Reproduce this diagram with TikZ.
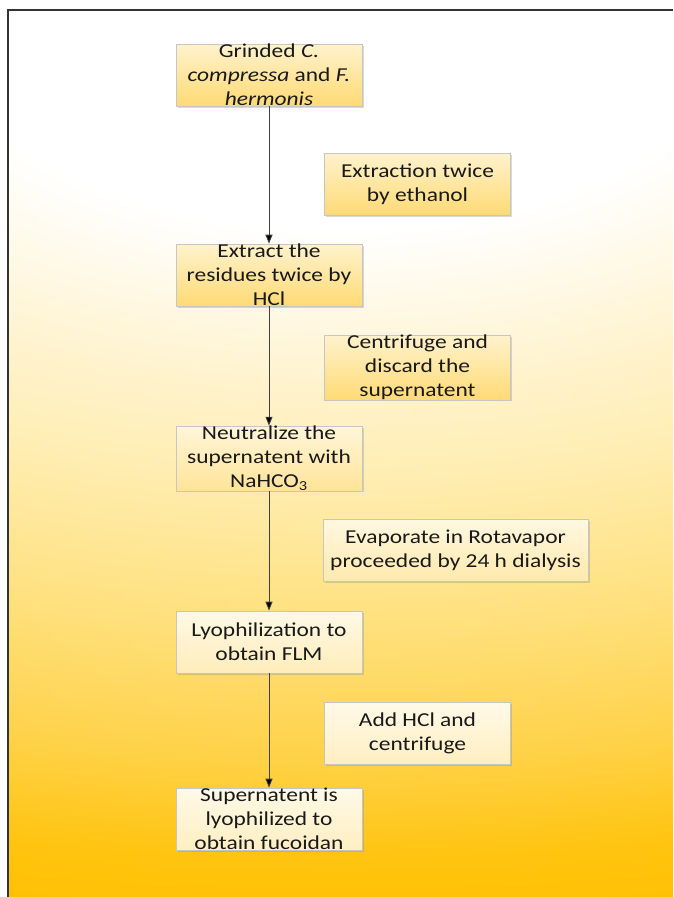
\documentclass[tikz,border=0pt]{standalone}
\usepackage{fontspec}
\setmainfont{Carlito}[FakeStretch=1.19]
\usepackage{tikz}
\usetikzlibrary{arrows.meta, shadows}

\definecolor{framegray}{HTML}{333333}
\definecolor{flowgray}{HTML}{404040}
\definecolor{boxtop}{HTML}{FFF2CC}
\definecolor{boxbot}{HTML}{FFDA75}
\definecolor{glowA}{HTML}{FFF6DC}
\definecolor{glowB}{HTML}{FFEDB0}
\definecolor{glowC}{HTML}{FFE07C}
\definecolor{glowD}{HTML}{FFD24A}
\definecolor{glowE}{HTML}{FFC40F}
\definecolor{glowF}{HTML}{FFC000}

\pgfdeclareradialshading{bgglow}{\pgfpoint{0bp}{0bp}}{%
  color(0bp)=(white); color(11bp)=(white); color(17bp)=(glowA);
  color(25bp)=(glowB); color(33bp)=(glowC); color(40bp)=(glowD);
  color(46bp)=(glowE); color(50bp)=(glowF)}

\tikzset{
  procbox/.style={draw=gray!45, line width=0.6pt,
    top color=boxtop!#1!white, bottom color=boxbot!#1!white,
    minimum width=186pt, minimum height=62pt, inner xsep=3pt, inner ysep=0pt,
    align=center, text=black!90, font=\fontsize{19.7pt}{24pt}\selectfont,
    drop shadow={opacity=0.3, shadow xshift=1.5pt, shadow yshift=-1.5pt}},
  procbox/.default=100,
  flow/.style={draw=flowgray, line width=0.9pt,
    -{Triangle[length=9pt, width=7pt, fill=black]}}
}

\begin{document}
\begin{tikzpicture}[x=1pt, y=-1pt]
  \useasboundingbox (0,0) rectangle (673,897);
  % background glow
  \begin{scope}
    \clip (8,10) rectangle (673,897);
    \pgftransformshift{\pgfpoint{340pt}{-30pt}}
    \pgftransformxscale{36}\pgftransformyscale{18}
    \pgflowlevelsynccm
    \pgfuseshading{bgglow}
  \end{scope}
  % frame
  \draw[framegray, line width=1.2pt] (8,897) -- (8,10) -- (673,10);

  % main steps
  \node[procbox] (grind) at (269,75)
    {Grinded \textit{C.}\\ \textit{compressa} and \textit{F.}\\ \textit{hermonis}};
  \node[procbox] (hcl) at (269,275)
    {Extract the\\ residues twice by\\ HCl};
  \node[procbox=75] (neutral) at (269,458.5)
    {Neutralize the\\ supernatent with\\ NaHCO\textsubscript{3}};
  \node[procbox=50] (lyo) at (269,642)
    {Lyophilization to\\ obtain FLM};
  \node[procbox=45] (fuco) at (269,819)
    {Supernatent is\\ lyophilized to\\ obtain fucoidan};

  % side notes
  \node[procbox] (ethanol) at (417.5,184)
    {Extraction twice\\ by ethanol};
  \node[procbox] (centri) at (417.5,367.5)
    {Centrifuge and\\ discard the\\ supernatent};
  \node[procbox=60, minimum width=265pt] (evap) at (455.5,550.5)
    {Evaporate in Rotavapor\\ proceeded by 24 h dialysis};
  \node[procbox=45] (addhcl) at (417.5,733)
    {Add HCl and\\ centrifuge};

  % arrows
  \draw[flow] (grind) -- (hcl);
  \draw[flow] (hcl) -- (neutral);
  \draw[flow] (neutral) -- (lyo);
  \draw[flow] (lyo) -- (fuco);
\end{tikzpicture}
\end{document}
